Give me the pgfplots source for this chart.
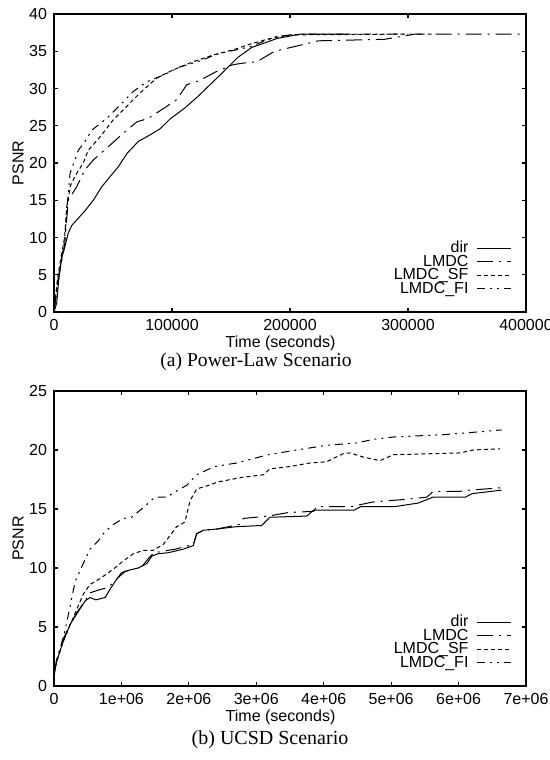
\documentclass[border=0pt]{standalone}
\usepackage{fontspec}
\setmainfont{Liberation Serif}
\setsansfont{Liberation Sans}
\usepackage{pgfplots}
\pgfplotsset{compat=1.18}

% line styles of the four methods
\tikzset{
  dirline/.style={black, line width=0.5pt, solid},
  lmdcline/.style={black, line width=0.5pt, dash pattern=on 8pt off 3pt on 1pt off 3pt},
  sfline/.style={black, line width=0.5pt, dash pattern=on 2pt off 1.5pt},
  filine/.style={black, line width=0.5pt, dash pattern=on 4pt off 2.5pt on 1pt off 2.5pt on 1pt off 2.5pt},
}

\pgfplotsset{
  gp/.style={
    scale only axis,
    width=236pt,
    tick align=inside,
    major tick length=2pt,
    axis line style={line width=0.8pt},
    every tick/.style={black, line width=0.6pt},
    ymin=0,
    scaled x ticks=false,
    /pgf/number format/assume math mode=true,
    ylabel={PSNR},
    xlabel={Time (seconds)},
    legend cell align=right,
    legend plot pos=right,
    legend style={draw=none, fill=none, at={(1,0)}, anchor=south east,
      xshift=-4pt, yshift=6pt, row sep=0pt, column sep=4pt,
      nodes={inner sep=0pt, text height=5.5pt, text depth=1.25pt}},
  }
}

\begin{document}
\begin{tikzpicture}[font=\sffamily\fontsize{8}{9.6}\selectfont]
\path[use as bounding box] (0,0) rectangle (275pt,380pt);

% (a) Power-Law Scenario
\begin{axis}[gp,
  at={(27pt,224pt)}, anchor=south west,
  height=149pt,
  xmin=0, xmax=400000, ymax=40,
  xtick={0,100000,200000,300000,400000},
  xticklabels={0,100000,200000,300000,400000},
  ytick={0,5,...,40},
  ylabel style={at={(axis description cs:-0.076,0.5)}, anchor=center},
  xlabel style={at={(axis description cs:0.48,-0.104)}, anchor=center},
]
\addplot[dirline] coordinates {
(0,0) (2300,1.2) (4500,5.2) (7000,7.5) (9300,8.8) (12100,10.6) (15000,11.6)
(26300,13.6) (33300,15.0) (40400,16.8) (54500,19.5) (62000,21.3) (71500,22.9)
(82800,23.9) (90000,24.6) (98300,25.9) (111000,27.4) (121000,28.8) (125000,29.4)
(140700,31.8) (156000,34.2) (167500,35.5) (180000,36.2) (188700,36.7)
(208500,37.3) (250000,37.3)};
\addplot[lmdcline] coordinates {
(0,0) (3000,3.5) (6000,6.5) (9000,9) (12100,15) (19200,16.8) (26300,19.1)
(33300,20.4) (44700,22) (57400,23.8) (70000,25.5) (80000,26) (92700,27.3)
(104000,28.5) (112500,30.5) (123700,31.1) (137900,32.3) (152000,33.2)
(160000,33.4) (172000,33.6) (187000,35.0) (208500,35.8) (224000,36.4)
(280000,36.6) (306000,37.3) (400000,37.3)};
\addplot[sfline] coordinates {
(0,0) (3000,4.5) (6000,7.5) (9000,10) (10700,14) (14000,17) (19200,18.6)
(24800,20) (29000,21.7) (39000,23.5) (50300,25.8) (61600,27.6) (72900,29.4)
(87000,31.4) (101000,32.5) (118000,33.6) (135000,34.5) (152000,35.2)
(169000,36.1) (183000,36.7) (200000,37.2) (300000,37.3)};
\addplot[filine] coordinates {
(0,0) (3000,4) (6000,7) (9000,9.5) (11000,14) (13600,18.6) (20600,21.7)
(26300,22.9) (32000,24.4) (44700,26.0) (57400,28.0) (67200,29.6) (78600,30.9)
(92700,31.8) (106800,32.9) (123700,33.7) (137900,34.6) (166000,35.6)
(188700,37.0) (210000,37.3) (320000,37.3)};
\legend{dir,LMDC,LMDC\_SF,LMDC\_FI}
\end{axis}
\node[font=\rmfamily\fontsize{9.8}{11}\selectfont] at (128pt,199pt) {(a) Power-Law Scenario};

% (b) UCSD Scenario
\begin{axis}[gp,
  at={(27pt,37pt)}, anchor=south west,
  height=147.5pt,
  xmin=0, xmax=7000000, ymax=25,
  xtick={0,1000000,2000000,3000000,4000000,5000000,6000000,7000000},
  xticklabels={0,1e+06,2e+06,3e+06,4e+06,5e+06,6e+06,7e+06},
  ytick={0,5,...,25},
  ylabel style={at={(axis description cs:-0.076,0.5)}, anchor=center},
  xlabel style={at={(axis description cs:0.48,-0.105)}, anchor=center},
]
\addplot[dirline] coordinates {
(0,0.8) (40000,2.1) (138000,3.8) (237000,5.2) (336000,6.1) (460000,7.2)
(534000,7.5) (620000,7.3) (760000,7.5) (820000,8.1) (900000,8.8) (1000000,9.6)
(1100000,9.8) (1250000,10.0) (1380000,10.4) (1450000,11.0) (1540000,11.2)
(1700000,11.3) (1918000,11.6) (2066000,11.9) (2116000,12.9) (2215000,13.2)
(2412000,13.3) (2700000,13.5) (3079000,13.6) (3200000,14.3) (3750000,14.4)
(3850000,14.9) (4450000,14.9) (4550000,15.2) (5050000,15.2) (5400000,15.5)
(5620000,16.0) (6100000,16.0) (6200000,16.3) (6639000,16.6)};
\addplot[lmdcline] coordinates {
(0,1.0) (40000,2.3) (138000,4.0) (237000,5.2) (336000,6.2) (460000,7.2)
(534000,7.9) (700000,8.2) (780000,8.3) (850000,8.6) (954000,9.2) (1053000,9.7)
(1176000,9.9) (1300000,10.1) (1400000,10.8) (1480000,11.3) (1600000,11.4)
(1800000,11.6) (2066000,12.0) (2116000,12.9) (2215000,13.2) (2412000,13.3)
(2759000,13.7) (2808000,14.2) (3178000,14.4) (3475000,14.7) (3850000,14.8)
(3895000,15.2) (4400000,15.2) (4736000,15.6) (5180000,15.8) (5527000,16.0)
(5625000,16.5) (6021000,16.5) (6169000,16.6) (6639000,16.8)};
\addplot[sfline] coordinates {
(0,1.0) (15000,1.6) (138000,3.8) (286000,5.8) (435000,7.8) (534000,8.6)
(682000,9.1) (880000,9.9) (1028000,10.6) (1176000,11.2) (1324000,11.5)
(1473000,11.5) (1621000,12.0) (1820000,13.5) (1943000,13.9) (2017000,15.7)
(2116000,16.7) (2289000,17.0) (2437000,17.3) (2808000,17.7) (3104000,17.9)
(3203000,18.4) (3500000,18.6) (3796000,18.9) (4044000,19.0) (4291000,19.7)
(4390000,19.75) (4587000,19.4) (4835000,19.1) (5032000,19.6) (6021000,19.75)
(6219000,20.0) (6614000,20.1)};
\addplot[filine] coordinates {
(0,1.2) (40000,2.1) (163000,4.7) (237000,6.7) (311000,8.8) (411000,10.1)
(534000,11.6) (657000,12.3) (731000,12.9) (856000,13.6) (1028000,14.2)
(1152000,14.3) (1300000,15.0) (1498000,16.0) (1671000,16.0) (1869000,16.7)
(1968000,17.0) (2116000,17.9) (2264000,18.3) (2388000,18.6) (2709000,18.9)
(3178000,19.6) (3599000,20.0) (4044000,20.4) (4489000,20.6) (4736000,20.9)
(5032000,21.1) (5774000,21.3) (6219000,21.5) (6639000,21.7)};
\legend{dir,LMDC,LMDC\_SF,LMDC\_FI}
\end{axis}
\node[font=\rmfamily\fontsize{10}{11}\selectfont] at (135pt,10pt) {(b) UCSD Scenario};
\end{tikzpicture}
\end{document}
